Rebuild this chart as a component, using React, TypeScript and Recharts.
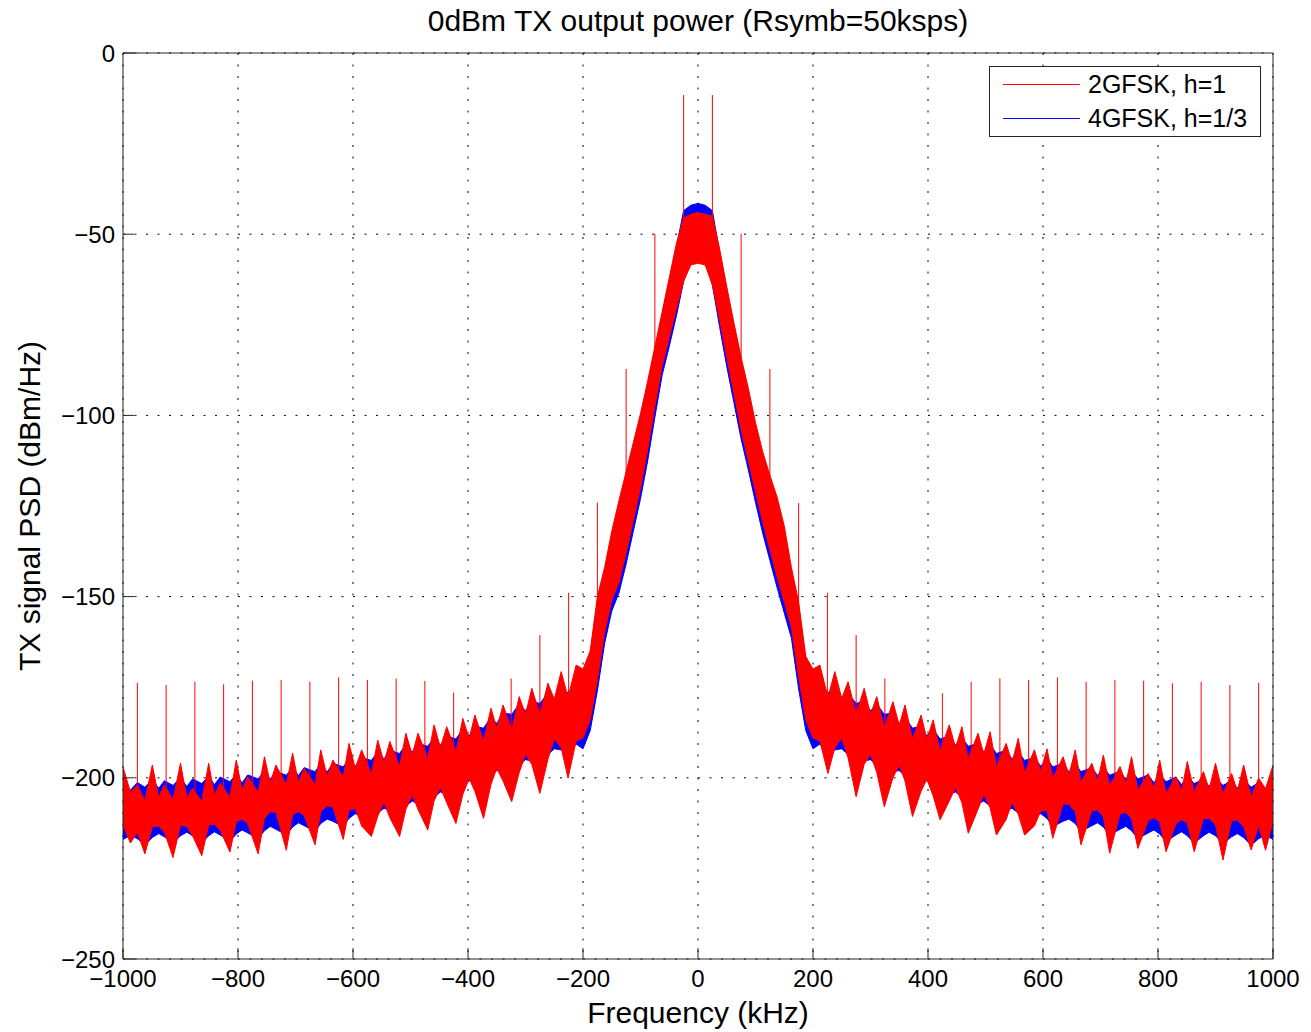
import { ComposedChart, Area, Line, XAxis, YAxis, CartesianGrid, Legend } from 'recharts'

// Spectrum samples (kHz). The skirts follow the ~49 kHz lobe pattern: peak, notch, peak, waist.
const FREQ_KHZ = [
  -1000,
  -987, -975, -962, -949, -938, -928, -913, -900, -889, -879, -863, -851,
  -841, -831, -814, -803, -793, -783, -765, -754, -744, -734, -716, -705,
  -695, -685, -666, -656, -645, -635, -617, -607, -596, -585, -568, -557,
  -546, -536, -519, -508, -497, -487, -470, -459, -448, -437, -421, -409,
  -398, -388, -373, -360, -350, -339, -324, -311, -300, -289, -275, -261,
  -250, -238, -226, -212,
  -200, -187.5, -175, -162.5, -150, -137.5, -125, -112.5, -100, -87.5, -75, -62.5,
  -50, -37.5, -25, -12.5, 0, 12.5, 25, 37.5, 50, 62.5, 75, 87.5,
  100, 112.5, 125, 137.5, 150, 162.5, 175, 187.5, 200,
  212, 226, 238, 250, 261, 275, 289, 300, 311, 324, 339, 350,
  360, 373, 388, 398, 409, 421, 437, 448, 459, 470, 487, 497,
  508, 519, 536, 546, 557, 568, 585, 596, 607, 617, 635, 645,
  656, 666, 685, 695, 705, 716, 734, 744, 754, 765, 783, 793,
  803, 814, 831, 841, 851, 863, 879, 889, 900, 913, 928, 938,
  949, 962, 975, 987,
  1000,
]

// 2GFSK, h=1 : upper / lower edge of the noisy trace (dBm/Hz)
const RED_HI = [
  -197,
  -204, -202, -206.3, -196.5, -205.3, -202, -206, -196, -205.5, -202.9, -206.5, -196,
  -204.8, -201.5, -205.3, -195.1, -203.4, -199.7, -204, -194.2, -201.4, -196.5, -201.9, -193.2,
  -201.3, -197.4, -201.9, -192.3, -199.7, -195.1, -199.8, -190.5, -197.4, -192.3, -199, -189.6,
  -195.8, -190, -196.9, -187.7, -193.7, -187.7, -194.6, -185.4, -191.7, -185.9, -192.8, -183.6,
  -189.2, -182.7, -189.8, -180.8, -186.4, -179.9, -186.8, -177.6, -182.5, -175.3, -182.6, -173.9,
  -178.3, -170.7, -177.8, -168.9,
  -170, -165, -150, -142, -132, -123.5, -115.5, -107.5, -99.5, -90.5, -81, -71.5,
  -62, -52.5, -45.5, -44.5, -44, -44.5, -45, -54, -64.5, -74.5, -84, -92.5,
  -102, -110, -116.5, -122.5, -130.5, -142, -151.5, -166.5, -170,
  -168.9, -177.8, -170.7, -178.1, -173.5, -182.4, -175.3, -182.5, -177.6, -186.3, -179, -185.5,
  -179.9, -189.3, -182.7, -189.4, -184, -192.7, -185.4, -191.7, -185.9, -194.8, -187.7, -193.5,
  -187.3, -196.9, -190.5, -195.8, -189.1, -198.7, -192.3, -198.2, -192, -200.1, -194.2, -199.3,
  -192.3, -201.2, -196, -200.9, -193.7, -202.3, -196.9, -201.6, -194.2, -203.5, -198.8, -203,
  -195.1, -204.4, -199.7, -203.6, -195.5, -203.9, -198.3, -203.2, -196, -204.4, -198.8, -203.7,
  -196.5, -205.3, -200.1, -203,
  -196.5,
]
const RED_LO = [
  -213,
  -218, -215, -221, -213.5, -213.3, -215, -222, -213, -213.5, -216, -221.5, -213,
  -212.8, -214.5, -220.5, -212.1, -211.4, -212.7, -221, -211.2, -209.4, -209.5, -220, -210.2,
  -209.3, -210.4, -218.5, -209.3, -207.7, -208.1, -217, -209, -208.4, -213.3, -216.2, -210.6,
  -206.8, -211, -216.2, -208.7, -204.7, -208.7, -214.4, -206.4, -202.7, -206.9, -212.6, -204.6,
  -200.2, -203.7, -211.2, -201.8, -197.4, -200.9, -206.6, -198.6, -193.5, -196.3, -204.3, -194.9,
  -189.3, -191.7, -200.1, -189.9,
  -189, -184, -173, -160, -151, -146, -138, -129, -120, -109.5, -97.5, -86.5,
  -78.5, -70.5, -63, -58.5, -58, -58.5, -64, -73.5, -84, -94, -104, -112.5,
  -121, -129.5, -137, -144.5, -151.5, -158.5, -172, -184, -189,
  -189.9, -198.8, -191.7, -189.1, -194.5, -205.2, -196.3, -193.5, -198.6, -208, -200, -196.5,
  -200.9, -210.7, -203.7, -200.4, -205, -211.6, -206.4, -202.7, -206.9, -215.3, -208.7, -204.5,
  -208.3, -215.8, -211.5, -206.8, -210.1, -215.8, -213.3, -209.2, -209, -216.7, -207.2, -207.3,
  -209.3, -218.5, -209, -208.9, -210.7, -220.8, -209.9, -209.6, -211.2, -219.5, -211.8, -211,
  -212.1, -220.4, -212.7, -211.6, -212.5, -220.4, -211.3, -211.2, -213, -222.7, -211.8, -211.7,
  -213.5, -219.9, -213.1, -220,
  -212,
]

// 4GFSK, h=1/3 : upper / lower edge
const BLUE_HI = [
  -201,
  -203.4, -201.3, -202.6, -200.5, -202.9, -200.8, -202.1, -200, -202.4, -200.3, -201.6, -199.5,
  -201.9, -199.8, -201.1, -199, -201.4, -199.2, -200.3, -198.1, -200.4, -198.2, -199.3, -197.1,
  -199.4, -197.2, -198.3, -196.1, -198.4, -196, -197, -194.7, -196.8, -194.4, -195.2, -192.8,
  -194.8, -192.4, -193.3, -190.8, -192.9, -190.5, -191.3, -188.9, -191, -188.5, -189.3, -186.5,
  -188.4, -185.8, -186.3, -183.3, -185, -182.1, -182.5, -179.7, -181.5, -178.8, -179.5, -176.6,
  -178.5, -175.8, -176.5, -174,
  -171, -166, -151.5, -143.5, -133.5, -125, -117, -109, -100.5, -91.5, -82, -72.5,
  -63, -53.5, -43.5, -42, -41.5, -42, -43.5, -55, -65.5, -75.5, -85, -93.5,
  -103, -111, -117.5, -123.5, -131.5, -143.5, -153, -168, -171,
  -174, -176.5, -175.8, -178.5, -176.6, -179.5, -178.8, -181.5, -179.7, -182.5, -182.1, -185,
  -183.3, -186.3, -185.8, -188.4, -186.5, -189.3, -188.5, -191, -188.9, -191.3, -190.5, -192.9,
  -190.8, -193.3, -192.4, -194.8, -192.8, -195.2, -194.4, -196.8, -194.7, -197, -196, -198.4,
  -196.1, -198.3, -197.2, -199.4, -197.1, -199.3, -198.2, -200.4, -198.1, -200.3, -199.2, -201.4,
  -199, -201.1, -199.8, -201.9, -199.5, -201.6, -200.3, -202.4, -200, -202.1, -200.8, -202.9,
  -200.5, -202.6, -201.3, -203.4,
  -201,
]
const BLUE_LO = [
  -217,
  -215.9, -216.8, -218.6, -216.5, -215.4, -216.3, -218.1, -216, -215, -216, -218, -216,
  -214.9, -215.8, -217.6, -215.5, -214.4, -215.2, -216.8, -214.6, -213.4, -214.2, -215.8, -213.6,
  -212.4, -213.2, -214.8, -212.6, -211.4, -212, -213.5, -211.2, -209.9, -210.6, -212, -209.7,
  -208.4, -209, -210.3, -207.8, -206.4, -207.2, -208, -205.5, -203.9, -204.6, -205.3, -202.8,
  -200.8, -201.3, -202.4, -199.6, -198, -198.3, -199.4, -196.7, -195, -195.3, -196.5, -193.6,
  -192, -192.3, -193.6, -190.7,
  -192, -187, -176, -163, -154, -149, -141, -132, -123, -112.5, -100.5, -89,
  -81, -72.5, -63, -57, -56.5, -57, -64, -75.5, -86.5, -96.5, -106.5, -115,
  -124, -132.5, -140, -147.5, -154.5, -161.5, -175.5, -187, -192,
  -190.7, -193.6, -192.3, -192, -193.6, -196.5, -195.3, -195, -196.7, -199.4, -198.3, -198,
  -199.6, -202.4, -201.3, -200.8, -202.8, -205.3, -204.6, -203.9, -205.5, -208, -207.2, -206.4,
  -207.8, -210.3, -209, -208.4, -209.7, -212, -210.6, -209.9, -211.2, -213.5, -212, -211.4,
  -212.6, -214.8, -213.2, -212.4, -213.6, -215.8, -214.2, -213.4, -214.6, -216.8, -215.2, -214.4,
  -215.5, -217.6, -215.8, -214.9, -216, -218, -216, -215, -216, -218.1, -216.3, -215.4,
  -216.5, -218.6, -216.8, -215.9,
  -217,
]

// discrete spurs of the 2GFSK trace (odd multiples of 25 kHz)
const SPIKE_FREQ = [
  -975, -925, -875, -825, -775, -725, -675, -625, -575, -525, -475, -425, -325, -275, -225, -175, -125, -75, -25,
  25, 75, 125, 175, 225, 275, 325, 425, 475, 525, 575, 625, 675, 725, 775, 825, 875, 925, 975,
]
const SPIKE_TOP = [
  -173.8, -174.4, -173.5, -174.2, -173.2, -173, -173.5, -172.3, -173, -172.6, -173.3, -176.5, -172.6, -160.6, -148.9, -124.1, -87.2, -49.9, -11.6,
  -11.6, -49.9, -87.2, -124.2, -149, -160.6, -172.6, -176.7, -173.5, -172.6, -173, -172.3, -173.5, -173, -173.2, -173.9, -173.5, -174.4, -173.8,
]
const SPIKE_FOOT = [
  -205, -205, -205, -204, -203, -201, -200, -198, -197, -196, -194, -192, -187, -183, -178, -152, -117, -83, -47,
  -47, -86, -118, -153, -178, -183, -187, -193, -195, -197, -199, -199, -201, -202, -203, -204, -204, -204, -205,
]

const X_TICKS = [-1000, -800, -600, -400, -200, 0, 200, 400, 600, 800, 1000]
const Y_TICKS = [-250, -200, -150, -100, -50, 0]
const SERIES_NAMES = ['2GFSK, h=1', '4GFSK, h=1/3']
const SERIES_COLORS = ['#ff0000', '#0000ff']
const TITLE = '0dBm TX output power (Rsymb=50ksps)'

const FONT = '"Liberation Sans", Arial, Helvetica, sans-serif'
const AXIS_COLOR = '#262626'

const rows = FREQ_KHZ.map((f, i) => ({
  f,
  red: [RED_LO[i], RED_HI[i]],
  blue: [BLUE_LO[i], BLUE_HI[i]],
}))

// each spur is a vertical segment, separated from the next by a null
const spikeRows = SPIKE_FREQ.flatMap((f, i) => [
  { f, v: SPIKE_FOOT[i] },
  { f, v: SPIKE_TOP[i] },
  { f, v: null },
])

const fmt = (v: number) => (v < 0 ? `\u2212${Math.abs(v)}` : `${v}`)

const tickStyle = { fontSize: 24, fill: '#000', fontFamily: FONT }

function TitleLabel({ viewBox }: any) {
  return (
    <text
      x={viewBox.x + viewBox.width / 2}
      y={viewBox.y + viewBox.height - 22}
      textAnchor="middle"
      fontSize={30}
      fontFamily={FONT}
      fill="#000"
    >
      {TITLE}
    </text>
  )
}

function XLabel({ viewBox }: any) {
  return (
    <text x={viewBox.x + viewBox.width / 2} y={viewBox.y + viewBox.height + 24} textAnchor="middle" fontSize={30} fontFamily={FONT} fill="#000">
      Frequency (kHz)
    </text>
  )
}

function YLabel({ viewBox }: any) {
  const x = viewBox.x - 23
  const y = viewBox.y + viewBox.height / 2
  return (
    <text x={x} y={y} transform={`rotate(-90, ${x}, ${y})`} textAnchor="middle" fontSize={30} fontFamily={FONT} fill="#000">
      TX signal PSD (dBm/Hz)
    </text>
  )
}

function LegendBox() {
  return (
    <div
      style={{
        width: 272,
        height: 71,
        boxSizing: 'border-box',
        border: `1px solid ${AXIS_COLOR}`,
        background: '#fff',
        fontFamily: FONT,
        fontSize: 25,
        color: '#000',
      }}
    >
      {SERIES_NAMES.map((name, i) => (
        <div key={name} style={{ display: 'flex', alignItems: 'center', height: 34 }}>
          <span style={{ display: 'block', flexShrink: 0, width: 77, height: 1, marginLeft: 13, background: SERIES_COLORS[i] }} />
          <span style={{ marginLeft: 8, lineHeight: '34px', whiteSpace: 'nowrap' }}>{name}</span>
        </div>
      ))}
    </div>
  )
}

export default function App() {
  return (
    <div style={{ position: 'absolute', left: 0, top: 0, width: 1311, height: 1032, background: '#fff' }}>
      <ComposedChart width={1311} height={1032} data={rows} margin={{ top: 52, right: 37, bottom: 33, left: 63 }}>
        <CartesianGrid stroke="#000" strokeWidth={1} strokeDasharray="2 9.5" />
        <XAxis
          dataKey="f"
          type="number"
          domain={[-1000, 1000]}
          ticks={X_TICKS}
          interval={0}
          allowDataOverflow
          height={40}
          tickSize={-11}
          tickMargin={22}
          tickFormatter={fmt}
          tick={tickStyle}
          axisLine={{ stroke: AXIS_COLOR }}
          tickLine={{ stroke: AXIS_COLOR }}
          label={{ content: XLabel }}
        />
        {/* mirrored box axes: top and right, inward ticks only (1px thick so they get drawn) */}
        <XAxis
          xAxisId="top"
          orientation="top"
          dataKey="f"
          type="number"
          domain={[-1000, 1000]}
          ticks={X_TICKS}
          interval={0}
          allowDataOverflow
          height={1}
          tickSize={-11}
          tick={false}
          axisLine={{ stroke: AXIS_COLOR }}
          tickLine={{ stroke: AXIS_COLOR }}
          label={{ content: TitleLabel }}
        />
        <YAxis
          type="number"
          domain={[-250, 0]}
          ticks={Y_TICKS}
          interval={0}
          allowDataOverflow
          width={60}
          tickSize={-11}
          tickMargin={19}
          tickFormatter={fmt}
          tick={tickStyle}
          axisLine={{ stroke: AXIS_COLOR }}
          tickLine={{ stroke: AXIS_COLOR }}
          label={{ content: YLabel }}
        />
        <YAxis
          yAxisId="right"
          orientation="right"
          type="number"
          domain={[-250, 0]}
          ticks={Y_TICKS}
          interval={0}
          allowDataOverflow
          width={1}
          tickSize={-11}
          tick={false}
          axisLine={{ stroke: AXIS_COLOR }}
          tickLine={{ stroke: AXIS_COLOR }}
        />
        <Area
          type="linear"
          dataKey="blue"
          name={SERIES_NAMES[1]}
          stroke={SERIES_COLORS[1]}
          strokeWidth={1}
          fill={SERIES_COLORS[1]}
          fillOpacity={1}
          dot={false}
          activeDot={false}
          isAnimationActive={false}
        />
        <Area
          type="linear"
          dataKey="red"
          name={SERIES_NAMES[0]}
          stroke={SERIES_COLORS[0]}
          strokeWidth={1}
          fill={SERIES_COLORS[0]}
          fillOpacity={1}
          dot={false}
          activeDot={false}
          isAnimationActive={false}
        />
        {/* spurs use the mirrored axes (same domain) */}
        <Line
          data={spikeRows}
          xAxisId="top"
          yAxisId="right"
          dataKey="v"
          stroke={SERIES_COLORS[0]}
          strokeWidth={1}
          dot={false}
          activeDot={false}
          connectNulls={false}
          legendType="none"
          isAnimationActive={false}
        />
        <Legend
          layout="vertical"
          align="center"
          verticalAlign="middle"
          wrapperStyle={{ top: 66, left: 989, width: 272 }}
          content={() => <LegendBox />}
        />
      </ComposedChart>
    </div>
  )
}
